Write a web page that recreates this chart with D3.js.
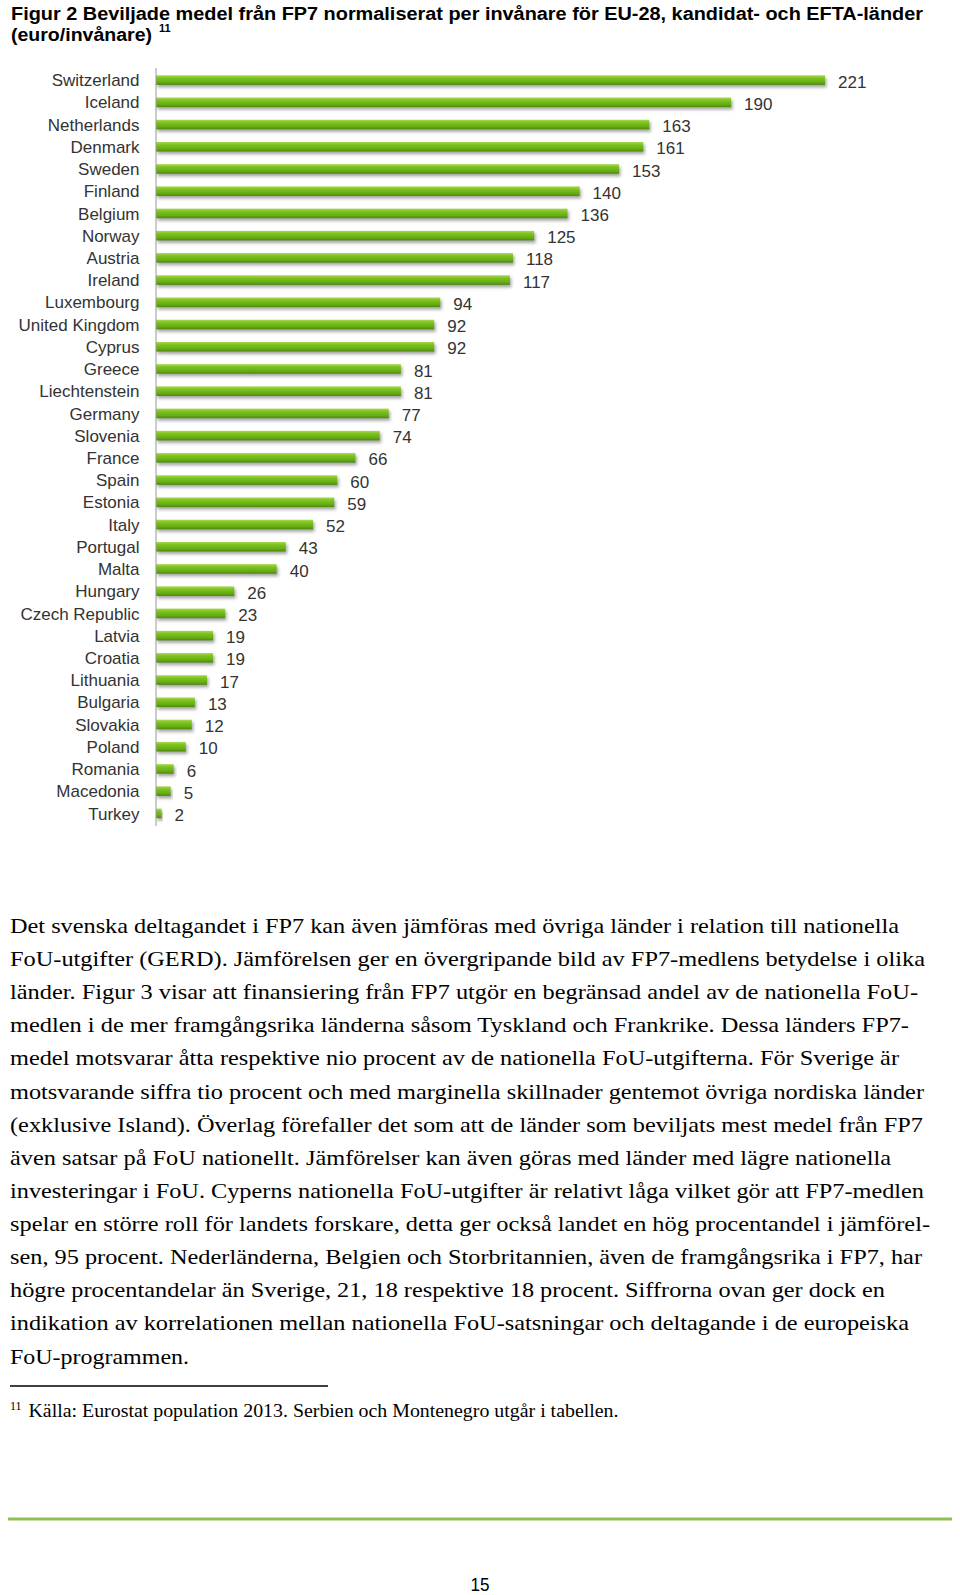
<!DOCTYPE html>
<html><head><meta charset="utf-8">
<script src="https://cdn.jsdelivr.net/npm/d3@7/dist/d3.min.js"></script>
<style>html,body{margin:0;padding:0;background:#fff}svg{display:block}</style>
</head><body>
<script>
const countries = ["Switzerland","Iceland","Netherlands","Denmark","Sweden","Finland","Belgium","Norway","Austria","Ireland","Luxembourg","United Kingdom","Cyprus","Greece","Liechtenstein","Germany","Slovenia","France","Spain","Estonia","Italy","Portugal","Malta","Hungary","Czech Republic","Latvia","Croatia","Lithuania","Bulgaria","Slovakia","Poland","Romania","Macedonia","Turkey"];
const values = [221,190,163,161,153,140,136,125,118,117,94,92,92,81,81,77,74,66,60,59,52,43,40,26,23,19,19,17,13,12,10,6,5,2];
const titleLines = ["Figur 2 Beviljade medel från FP7 normaliserat per invånare för EU-28, kandidat- och EFTA-länder","(euro/invånare)"];
const titleNote = "11";
const bodyLines = [
"Det svenska deltagandet i FP7 kan även jämföras med övriga länder i relation till nationella",
"FoU-utgifter (GERD). Jämförelsen ger en övergripande bild av FP7-medlens betydelse i olika",
"länder. Figur 3 visar att finansiering från FP7 utgör en begränsad andel av de nationella FoU-",
"medlen i de mer framgångsrika länderna såsom Tyskland och Frankrike. Dessa länders FP7-",
"medel motsvarar åtta respektive nio procent av de nationella FoU-utgifterna. För Sverige är",
"motsvarande siffra tio procent och med marginella skillnader gentemot övriga nordiska länder",
"(exklusive Island). Överlag förefaller det som att de länder som beviljats mest medel från FP7",
"även satsar på FoU nationellt. Jämförelser kan även göras med länder med lägre nationella",
"investeringar i FoU. Cyperns nationella FoU-utgifter är relativt låga vilket gör att FP7-medlen",
"spelar en större roll för landets forskare, detta ger också landet en hög procentandel i jämförel-",
"sen, 95 procent. Nederländerna, Belgien och Storbritannien, även de framgångsrika i FP7, har",
"högre procentandelar än Sverige, 21, 18 respektive 18 procent. Siffrorna ovan ger dock en",
"indikation av korrelationen mellan nationella FoU-satsningar och deltagande i de europeiska",
"FoU-programmen."
];
const bodyWidths = [889,915,908,899,889,914,913,881,914,920,912,875,899,179];
const footNoteMark = "11";
const footNote = "Källa: Eurostat population 2013. Serbien och Montenegro utgår i tabellen.";
const pageNumber = "15";

const W = 960, H = 1595;
const svg = d3.select("body").append("svg").attr("width", W).attr("height", H);
const defs = svg.append("defs");
const grad = defs.append("linearGradient").attr("id","barGrad").attr("x1",0).attr("y1",0).attr("x2",0).attr("y2",1);
grad.append("stop").attr("offset","0%").attr("stop-color","#a8d850");
grad.append("stop").attr("offset","30%").attr("stop-color","#7cc21e");
grad.append("stop").attr("offset","70%").attr("stop-color","#68ae14");
grad.append("stop").attr("offset","100%").attr("stop-color","#4c8a0a");
const filt = defs.append("filter").attr("id","shadow").attr("x","-5%").attr("y","-50%").attr("width","120%").attr("height","260%");
filt.append("feDropShadow").attr("dx",1.5).attr("dy",2.5).attr("stdDeviation",1.4).attr("flood-color","#6a6a6a").attr("flood-opacity",0.6);

// Title
const title = svg.append("g").attr("font-family","Liberation Sans, Arial, sans-serif").attr("font-weight","bold").attr("fill","#000");
title.append("text").attr("x",11).attr("y",20).attr("font-size",18).attr("textLength",912).attr("lengthAdjust","spacingAndGlyphs").text(titleLines[0]);
title.append("text").attr("x",11).attr("y",41).attr("font-size",18).attr("textLength",141).attr("lengthAdjust","spacingAndGlyphs").text(titleLines[1]);
title.append("text").attr("x",159).attr("y",32).attr("font-size",11).text(titleNote);

// Chart
const x0 = 155.5;
const x = d3.scaleLinear().domain([0,221]).range([x0, 825]);
const y = d3.scaleBand().domain(countries).range([69, 824.5]).paddingInner(0.6).paddingOuter(0.3);
const barH = 9.6;
const chart = svg.append("g");
chart.selectAll("rect.bar").data(values).join("rect").attr("class","bar")
  .attr("x", x0+0.5)
  .attr("y", (d,i)=> y(countries[i]) + y.bandwidth()/2 - barH/2)
  .attr("width", d=> x(d)-x0-0.5)
  .attr("height", barH)
  .attr("fill","url(#barGrad)")
  .attr("filter","url(#shadow)");
const axis = chart.append("g").attr("transform",`translate(${x0},0)`)
  .call(d3.axisLeft(y).tickSize(0).tickPadding(16));
axis.select(".domain").attr("stroke","#9a9a9a").attr("stroke-width",1).attr("d","M0.5,68V826");
axis.selectAll("text").attr("font-family","Liberation Sans, Arial, sans-serif").attr("font-size",17).attr("fill","#333").attr("dy","0.36em");
chart.selectAll("text.val").data(values).join("text").attr("class","val")
  .attr("x", d=> x(d)+13)
  .attr("y", (d,i)=> y(countries[i]) + y.bandwidth()/2 + 1.5)
  .attr("dy","0.36em")
  .attr("font-family","Liberation Sans, Arial, sans-serif").attr("font-size",17).attr("fill","#333")
  .text(d=>d);

// Body text
const body = svg.append("g").attr("font-family","Liberation Serif, Times New Roman, serif").attr("font-size",22).attr("fill","#000");
bodyLines.forEach((s,i)=>{
  body.append("text").attr("x",10).attr("y",933 + i*33.12)
    .attr("textLength",bodyWidths[i]).attr("lengthAdjust","spacingAndGlyphs").text(s);
});

// Footnote
svg.append("line").attr("x1",10).attr("x2",328).attr("y1",1386).attr("y2",1386).attr("stroke","#000").attr("stroke-width",1.6);
svg.append("text").attr("x",10).attr("y",1410).attr("font-family","Liberation Serif, Times New Roman, serif").attr("font-size",12).text(footNoteMark);
svg.append("text").attr("x",28.5).attr("y",1417).attr("font-family","Liberation Serif, Times New Roman, serif").attr("font-size",18).attr("textLength",590).attr("lengthAdjust","spacingAndGlyphs").text(footNote);

// Footer
svg.append("line").attr("x1",8).attr("x2",952).attr("y1",1519).attr("y2",1519).attr("stroke","#8fbf4d").attr("stroke-width",3);
svg.append("text").attr("x",480).attr("y",1591).attr("text-anchor","middle").attr("font-family","Liberation Sans, Arial, sans-serif").attr("font-size",18).attr("textLength",19).attr("lengthAdjust","spacingAndGlyphs").text(pageNumber);
</script>
</body></html>
